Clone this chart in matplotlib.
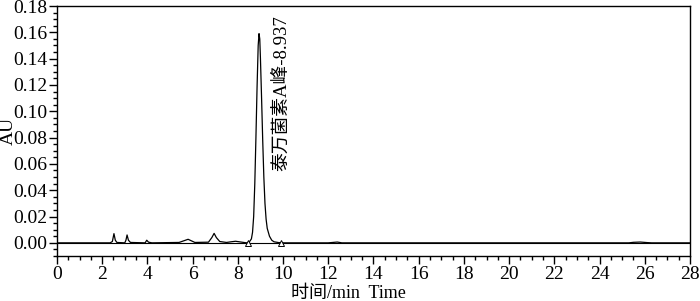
import numpy as np
import matplotlib
matplotlib.use("Agg")
import matplotlib.pyplot as plt
from matplotlib.ticker import MultipleLocator, FormatStrFormatter

plt.rcParams['font.family'] = ['Liberation Serif', 'Noto Sans CJK SC']

# chromatogram trace (time in min, absorbance in AU)
time = [0.0, 2.35, 2.45, 2.52, 2.58, 2.65,
        3.00, 3.05, 3.10, 3.16, 3.25,
        3.90, 3.97, 4.05, 4.20,
        5.40, 5.60, 5.80, 5.95, 6.10,
        6.70, 6.85, 6.95, 7.05, 7.20, 7.50,
        7.70, 7.90, 8.10, 8.30,
        8.40, 8.50, 8.60, 8.65, 8.70, 8.75, 8.80, 8.85, 8.90, 8.937,
        8.97, 9.00, 9.05, 9.10, 9.15, 9.20, 9.25, 9.30, 9.40, 9.50,
        9.60, 9.80, 10.0,
        12.0, 12.2, 12.4, 12.6,
        25.3, 25.5, 25.8, 26.1, 26.3, 28.0]
signal = [0.0, 0.0, 0.001, 0.007, 0.002, 0.0003,
          0.0, 0.002, 0.006, 0.002, 0.0003,
          0.0, 0.002, 0.0005, 0.0,
          0.0003, 0.0015, 0.0027, 0.0015, 0.0003,
          0.0005, 0.004, 0.0072, 0.004, 0.001, 0.0003,
          0.0008, 0.0012, 0.0007, 0.0002,
          0.0, 0.0005, 0.003, 0.008, 0.020, 0.045, 0.080, 0.118, 0.150, 0.159,
          0.155, 0.140, 0.110, 0.078, 0.050, 0.030, 0.018, 0.011, 0.005, 0.002,
          0.0008, 0.0002, 0.0,
          0.0, 0.0003, 0.0006, 0.0,
          0.0, 0.0004, 0.0006, 0.0002, 0.0, 0.0]

# integration start/end markers of the main peak
marker_t = [8.45, 9.90]
peak_label = '泰万菌素A峰-8.937'
peak_t = 9.93
label_y = 0.173

fig = plt.figure(figsize=(7.0, 3.01), dpi=100)
ax = fig.add_axes([0.0814, 0.1495, 0.9043, 0.8305])

ax.axhline(0, color='black', lw=0.8)
ax.plot(time, signal, color='black', lw=0.9)
ax.plot(marker_t, [-0.0003] * len(marker_t), linestyle='none', marker='^',
        ms=4, mfc='white', mec='black', mew=0.7)

ax.text(peak_t, label_y, peak_label, rotation=90, ha='center', va='top',
        fontsize=13.5)

ax.set_xlim(0, 28)
ax.set_ylim(-0.01, 0.18)
ax.xaxis.set_major_locator(MultipleLocator(2))
ax.xaxis.set_minor_locator(MultipleLocator(0.5))
ax.yaxis.set_major_locator(MultipleLocator(0.02))
ax.yaxis.set_minor_locator(MultipleLocator(0.005))
ax.yaxis.set_major_formatter(FormatStrFormatter('%.2f'))
ax.tick_params(which='major', length=6, width=1, labelsize=14, direction='out', pad=1)
ax.tick_params(which='minor', length=3, width=1, direction='out')
for s in ax.spines.values():
    s.set_linewidth(1)

ax.set_xlabel('时间/min  Time', fontsize=13)
ax.xaxis.set_label_coords(0.461, -0.115)
ax.set_ylabel('AU', fontsize=14)
ax.yaxis.set_label_coords(-0.064, 0.5)

fig.savefig('out.png', dpi=100)
